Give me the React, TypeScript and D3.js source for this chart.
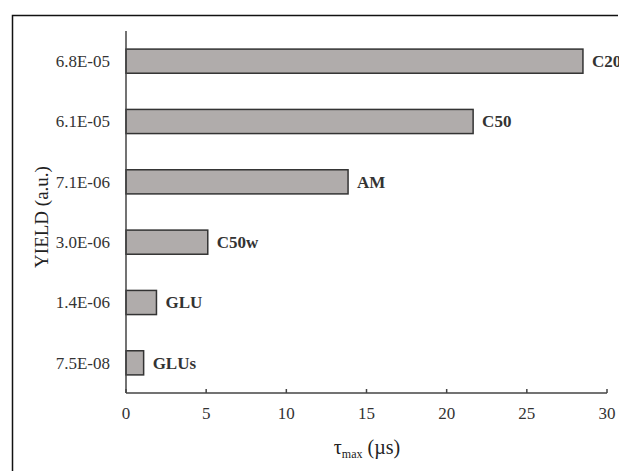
import React, { useEffect, useRef } from 'react';
import * as d3 from 'd3';

// bars from top to bottom
const yieldLabels = ['6.8E-05', '6.1E-05', '7.1E-06', '3.0E-06', '1.4E-06', '7.5E-08'];
const sampleNames = ['C20', 'C50', 'AM', 'C50w', 'GLU', 'GLUs'];
const tauMax = [28.5, 21.65, 13.85, 5.1, 1.9, 1.1];
const xTicks = [0, 5, 10, 15, 20, 25, 30];

const W = 619;
const H = 471;
const FONT = '"Liberation Serif", "DejaVu Serif", serif';

const App = () => {
  const ref = useRef<SVGSVGElement>(null);

  useEffect(() => {
    const svg = d3.select(ref.current);
    svg.selectAll('*').remove();

    const left = 126;
    const right = 607;
    const top = 31;
    const bottom = 393;

    // outer frame (right and bottom edges cut off)
    svg.append('path')
      .attr('d', `M12.5,${H} L12.5,15.5 L${W - 1},15.5`)
      .attr('fill', 'none')
      .attr('stroke', '#111')
      .attr('stroke-width', 1.5);

    const x = d3.scaleLinear().domain([0, 30]).range([left, right]);
    const y = d3.scaleBand<string>()
      .domain(yieldLabels)
      .range([top, bottom])
      .paddingInner(0.6)
      .paddingOuter(0.3);

    const data = yieldLabels.map((k, i) => ({ k, name: sampleNames[i], v: tauMax[i] }));

    const g = svg.append('g');

    g.selectAll('rect.bar')
      .data(data)
      .enter().append('rect')
      .attr('class', 'bar')
      .attr('x', x(0))
      .attr('y', d => y(d.k)!)
      .attr('width', d => x(d.v) - x(0))
      .attr('height', y.bandwidth())
      .attr('fill', '#b0acab')
      .attr('stroke', '#333')
      .attr('stroke-width', 1.5);

    g.selectAll('text.name')
      .data(data)
      .enter().append('text')
      .attr('class', 'name')
      .attr('x', d => x(d.v) + 9)
      .attr('y', d => y(d.k)! + y.bandwidth() / 2)
      .attr('dy', '0.35em')
      .attr('font-family', FONT)
      .attr('font-weight', 'bold')
      .attr('font-size', 17)
      .attr('fill', '#333')
      .text(d => d.name);

    // y category labels
    g.selectAll('text.ylab')
      .data(yieldLabels)
      .enter().append('text')
      .attr('class', 'ylab')
      .attr('x', 110)
      .attr('y', d => y(d)! + y.bandwidth() / 2)
      .attr('dy', '0.35em')
      .attr('text-anchor', 'end')
      .attr('font-family', FONT)
      .attr('font-size', 17)
      .attr('fill', '#333')
      .text(d => d);

    // axes lines
    g.append('line')
      .attr('x1', left).attr('x2', left)
      .attr('y1', top).attr('y2', bottom)
      .attr('stroke', '#444').attr('stroke-width', 1.5);
    g.append('line')
      .attr('x1', left).attr('x2', right)
      .attr('y1', bottom).attr('y2', bottom)
      .attr('stroke', '#444').attr('stroke-width', 1.5);

    g.selectAll('line.tick')
      .data(xTicks)
      .enter().append('line')
      .attr('class', 'tick')
      .attr('x1', d => x(d)).attr('x2', d => x(d))
      .attr('y1', bottom).attr('y2', bottom - 4)
      .attr('stroke', '#444').attr('stroke-width', 1.5);

    g.selectAll('text.xlab')
      .data(xTicks)
      .enter().append('text')
      .attr('class', 'xlab')
      .attr('x', d => x(d))
      .attr('y', 419)
      .attr('text-anchor', 'middle')
      .attr('font-family', FONT)
      .attr('font-size', 17)
      .attr('fill', '#333')
      .text(d => d);

    // axis titles
    const xt = g.append('text')
      .attr('x', 367)
      .attr('y', 454)
      .attr('text-anchor', 'middle')
      .attr('font-family', FONT)
      .attr('font-size', 20)
      .attr('fill', '#222');
    xt.append('tspan').text('τ');
    xt.append('tspan').attr('font-size', 12).attr('dy', 4).text('max');
    xt.append('tspan').attr('dy', -4).text(' (µs)');

    g.append('text')
      .attr('transform', `translate(48,${(top + bottom) / 2 + 5}) rotate(-90)`)
      .attr('text-anchor', 'middle')
      .attr('font-family', FONT)
      .attr('font-size', 19)
      .attr('fill', '#222')
      .text('YIELD (a.u.)');
  }, []);

  return <svg ref={ref} width={W} height={H} style={{ position: 'absolute', left: 0, top: 0, background: '#fff' }} />;
};

export default App;
